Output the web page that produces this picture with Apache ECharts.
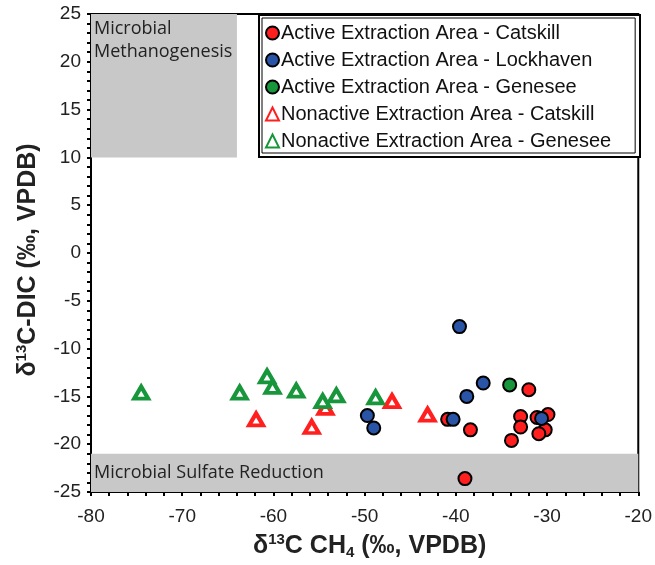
<!DOCTYPE html>
<html>
<head>
<meta charset="utf-8">
<script src="https://cdn.jsdelivr.net/npm/echarts@6/dist/echarts.min.js"></script>
<style>
html,body{margin:0;padding:0;background:#fff;}
#chart{width:655px;height:565px;}
</style>
</head>
<body>
<div id="chart"></div>
<script>
// ---- Data (x = δ13C CH4, y = δ13C-DIC) ----
var activeCatskill = [
  [-40.9, -17.4], [-32.0, -14.3], [-38.4, -18.5], [-39.0, -23.6],
  [-32.9, -17.1], [-32.9, -18.2], [-33.9, -19.6], [-29.9, -16.9],
  [-30.2, -18.5], [-30.9, -18.9], [-31.1, -17.2]
];
var activeLockhaven = [
  [-39.6, -7.7], [-37.0, -13.6], [-38.8, -15.0], [-49.7, -17.0],
  [-49.0, -18.3], [-40.3, -17.4], [-30.6, -17.3]
];
var activeGenesee = [
  [-34.1, -13.8]
];
var nonactiveCatskill = [
  [-61.9, -17.4], [-55.8, -18.2], [-54.3, -16.2], [-47.0, -15.5], [-43.1, -16.9]
];
var nonactiveGenesee = [
  [-74.5, -14.6], [-63.7, -14.6], [-60.7, -12.9], [-60.1, -14.0],
  [-57.5, -14.4], [-54.6, -15.5], [-53.1, -14.9], [-48.8, -15.1]
];
var methanogenesisBand = [[-80, 10], [-64, 25]];
var sulfateBand = [[-80, -25], [-20, -21]];
var xTicks = {min: -80, max: -20, interval: 10};
var yTicks = {min: -25, max: 25, interval: 5};
var legendNames = [
  'Active Extraction Area - Catskill',
  'Active Extraction Area - Lockhaven',
  'Active Extraction Area - Genesee',
  'Nonactive Extraction Area - Catskill',
  'Nonactive Extraction Area - Genesee'
];

var RED = '#ff1f1f', BLUE = '#2a55a6', GREEN = '#17963b';
var FONT = "'Liberation Sans', Arial, sans-serif";
var BAND_FONT = "'Open Sans', sans-serif";

function circleSeries(name, data, color, z) {
  return {
    name: name, type: 'scatter', data: data, z: z,
    symbol: 'circle', symbolSize: 13,
    itemStyle: {color: color, borderColor: '#000', borderWidth: 2, opacity: 1}
  };
}
function triSeries(name, data, color, z) {
  return {
    name: name, type: 'scatter', data: data, z: z,
    symbol: 'triangle', symbolSize: [14, 12],
    itemStyle: {color: '#fff', borderColor: color, borderWidth: 4, opacity: 1}
  };
}

var chart = echarts.init(document.getElementById('chart'), null, {renderer: 'canvas'});
var option = {
  backgroundColor: '#fff',
  animation: false,
  grid: {left: 91, right: 15, top: 14, bottom: 70, show: true, borderColor: '#000', borderWidth: 2},
  xAxis: {
    type: 'value', min: xTicks.min, max: xTicks.max, interval: xTicks.interval,
    name: '{d|δ}{sup|13}{d|C CH}{sub|4}{d| (‰, VPDB)}',
    nameLocation: 'middle', nameGap: 40,
    nameTextStyle: {
      padding: [0, 0, 0, 10],
      rich: {
        d: {fontFamily: FONT, fontWeight: 'bold', fontSize: 25, color: '#222', lineHeight: 28},
        sup: {fontFamily: FONT, fontWeight: 'bold', fontSize: 15, color: '#222', verticalAlign: 'top', lineHeight: 28},
        sub: {fontFamily: FONT, fontWeight: 'bold', fontSize: 15, color: '#222', verticalAlign: 'bottom', lineHeight: 20, padding: [10, 0, 0, 0]}
      }
    },
    axisLine: {show: true, onZero: false, lineStyle: {color: '#000', width: 2}},
    axisTick: {show: true, length: 4, lineStyle: {color: '#000', width: 2}},
    minorTick: {show: true, splitNumber: 5, length: 4, lineStyle: {color: '#000', width: 2}},
    splitLine: {show: false},
    axisLabel: {fontFamily: FONT, fontSize: 19, color: '#222', margin: 15}
  },
  yAxis: {
    type: 'value', min: yTicks.min, max: yTicks.max, interval: yTicks.interval,
    name: '{d|δ}{sup|13}{d|C-DIC (‰, VPDB)}',
    nameLocation: 'middle', nameGap: 49, nameRotate: 90,
    nameTextStyle: {
      padding: [0, 14, 0, 0],
      rich: {
        d: {fontFamily: FONT, fontWeight: 'bold', fontSize: 25, color: '#222', lineHeight: 28},
        sup: {fontFamily: FONT, fontWeight: 'bold', fontSize: 15, color: '#222', verticalAlign: 'top', lineHeight: 28}
      }
    },
    axisLine: {show: true, onZero: false, lineStyle: {color: '#000', width: 2}},
    axisTick: {show: true, length: 4, lineStyle: {color: '#000', width: 2}},
    minorTick: {show: true, splitNumber: 5, length: 4, lineStyle: {color: '#000', width: 2}},
    splitLine: {show: false},
    axisLabel: {fontFamily: FONT, fontSize: 19, color: '#222', margin: 10}
  },
  legend: {
    data: legendNames,
    orient: 'vertical', left: 262, top: 18,
    itemWidth: 13, itemHeight: 13, itemGap: 7,
    padding: [5, 24, 2, 3],
    borderColor: '#000', borderWidth: 1,
    backgroundColor: '#fff',
    textStyle: {fontFamily: FONT, fontSize: 20, color: '#111', padding: [0, 0, 0, -3]},
    z: 10
  },
  graphic: [{
    type: 'rect', left: 258, top: 14, z: 9,
    shape: {width: 381, height: 142},
    style: {fill: '#fff', stroke: '#000', lineWidth: 2}
  }],
  series: [
    {
      name: 'bands', type: 'scatter', data: [], z: 1,
      markArea: {
        silent: true,
        itemStyle: {color: '#c8c8c8'},
        data: [
          [{coord: methanogenesisBand[0],
            label: {show: true, position: 'insideTopLeft', distance: 3,
              formatter: 'Microbial\nMethanogenesis', fontFamily: BAND_FONT,
              fontSize: 18, lineHeight: 23, color: '#222'}},
           {coord: methanogenesisBand[1]}],
          [{coord: sulfateBand[0],
            label: {show: true, position: 'insideLeft', distance: 3,
              formatter: 'Microbial Sulfate Reduction', fontFamily: BAND_FONT,
              fontSize: 18, color: '#222', padding: [14, 0, 0, 0]}},
           {coord: sulfateBand[1]}]
        ]
      }
    },
    triSeries(legendNames[3], nonactiveCatskill, RED, 3),
    triSeries(legendNames[4], nonactiveGenesee, GREEN, 4),
    circleSeries(legendNames[0], activeCatskill, RED, 5),
    circleSeries(legendNames[2], activeGenesee, GREEN, 5),
    circleSeries(legendNames[1], activeLockhaven, BLUE, 6)
  ]
};
chart.setOption(option);
</script>
</body>
</html>
